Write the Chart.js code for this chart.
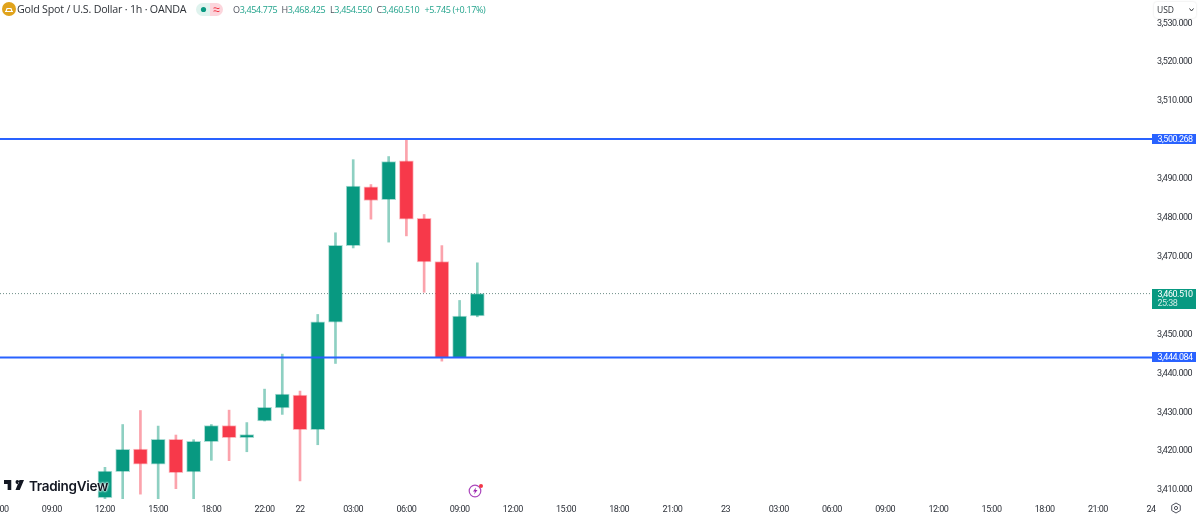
<!DOCTYPE html>
<html>
<head>
<meta charset="utf-8">
<title>Gold Spot / U.S. Dollar</title>
<script src="https://cdn.jsdelivr.net/npm/chart.js@4/dist/chart.umd.min.js"></script>
<style>
  html, body { margin: 0; padding: 0; background: #fff; overflow: hidden; }
  #wrap { position: relative; width: 1200px; height: 516px; font-family: "Open Sans", sans-serif; }
  #wrap span, #wrap div { position: absolute; white-space: nowrap; }
  #title { left: 17px; top: 0px; font-size: 10.7px; line-height: 19px; color: #2e3238; letter-spacing: -0.22px; }
  .ohlc { top: 0px; font-size: 9px; line-height: 19px; color: #22a38c; letter-spacing: -0.35px; }
  .ohlc b { font-weight: 400; color: #50535e; }
  #usd { left: 1154px; top: 2px; width: 42px; height: 16px; background: #fff; border-radius: 3px;
         box-shadow: 0 0 2px rgba(0,0,0,0.15); font-size: 8.5px; line-height: 16px; color: #2e3238; text-indent: 3px; }
  #tv { left: 29px; top: 476px; font-size: 13.5px; line-height: 20px; font-weight: 600; color: #131722;
        text-shadow: 0 0 2px #fff, 0 0 2px #fff, 0 0 3px #fff; font-family: Inter, sans-serif; letter-spacing: -0.3px; }
  svg { position: absolute; }
</style>
</head>
<body>
<div id="wrap">
  <canvas id="gold-chart" width="1200" height="516"></canvas>

  <svg style="left:2px;top:2px" width="14" height="14" viewBox="0 0 14 14">
    <circle cx="7" cy="7" r="7" fill="#e0a31c"/>
    <path d="M3 9.5h8M5 6.5h4L10 9.5H4z" stroke="#fff" stroke-width="1.2" fill="none"/>
  </svg>
  <span id="title">Gold Spot / U.S. Dollar · 1h · OANDA</span>

  <svg style="left:196px;top:3px" width="27" height="13" viewBox="0 0 27 13">
    <path d="M6.5 0H14V13H6.5A6.5 6.5 0 0 1 6.5 0z" fill="#dff3ee"/>
    <path d="M14 0H20.5A6.5 6.5 0 0 1 20.5 13H14z" fill="#fcd5dc"/>
    <circle cx="7.5" cy="6.5" r="2.6" fill="#089981"/>
    <path d="M17.5 5.2q1.5-1 3 0t3 0M17.5 8.2q1.5-1 3 0t3 0" stroke="#f23645" fill="none" stroke-width="1"/>
  </svg>

  <span class="ohlc" style="left:233px"><b>O</b>3,454.775</span>
  <span class="ohlc" style="left:281.5px"><b>H</b>3,468.425</span>
  <span class="ohlc" style="left:330px"><b>L</b>3,454.550</span>
  <span class="ohlc" style="left:376.5px"><b>C</b>3,460.510</span>
  <span class="ohlc" style="left:424.5px">+5.745 (+0.17%)</span>

  <div id="usd">USD</div>
  <svg style="left:1189px;top:8px" width="5" height="4" viewBox="0 0 5 4">
    <path d="M0.5 0.5L2.5 3L4.5 0.5" stroke="#2e3238" fill="none"/>
  </svg>

  <svg style="left:4px;top:480px" width="20" height="10" viewBox="2 6 33 15" preserveAspectRatio="none">
    <path d="M14 6H2v6h6v9h6V6zm14 15h-7l6.5-15H35l-7 15zM24 12a3 3 0 1 0 0-6 3 3 0 0 0 0 6z" fill="#131722"/>
  </svg>
  <span id="tv">TradingView</span>

  <svg style="left:468px;top:483px" width="16" height="15" viewBox="0 0 16 15">
    <circle cx="7" cy="8" r="5.8" fill="none" stroke="#ab47bc" stroke-width="1.2"/>
    <path d="M8 4.5L5 8.5H7L6 11.5L9.5 7H7.5z" fill="#9c27b0"/>
    <circle cx="13" cy="3" r="2" fill="#f23645"/>
  </svg>

  <svg style="left:1170px;top:502px" width="12" height="12" viewBox="0 0 12 12">
    <path d="M6 1L10.3 3.5V8.5L6 11L1.7 8.5V3.5z" fill="none" stroke="#50535e" stroke-width="1"/>
    <circle cx="6" cy="6" r="1.6" fill="none" stroke="#50535e" stroke-width="1"/>
  </svg>
</div>

<script>
// one bar per hour, 21:00 is the daily break so it has no slot
const candleHours = ["12:00","13:00","14:00","15:00","16:00","17:00","18:00","19:00","20:00","22:00","23:00",
                     "00:00","01:00","02:00","03:00","04:00","05:00","06:00","07:00","08:00","09:00","10:00"];
const candleSlots = [6,7,8,9,10,11,12,13,14,15,16,17,18,19,20,21,22,23,24,25,26,27];
const opens  = [3408.05,3414.75,3420.55,3416.65,3423.05,3414.65,3422.45,3426.55,3423.45,3427.75,3431.15,
                3434.45,3425.55,3453.15,3472.85,3487.95,3484.65,3494.65,3479.85,3468.75,3444.05,3454.775];
const highs  = [3415.85,3426.85,3430.45,3426.45,3424.15,3422.95,3426.85,3430.55,3427.35,3435.95,3444.95,
                3435.45,3455.15,3476.15,3494.95,3488.55,3495.75,3500.268,3480.85,3472.85,3458.75,3468.425];
const lows   = [3407.75,3407.75,3408.95,3407.75,3410.35,3407.65,3417.65,3417.55,3419.85,3427.75,3429.45,
                3412.35,3421.65,3442.55,3472.25,3479.65,3473.75,3475.35,3460.85,3443.15,3444.05,3454.55];
const closes = [3414.85,3420.45,3416.65,3423.05,3414.45,3422.55,3426.55,3423.45,3424.25,3431.25,3434.65,
                3425.55,3453.25,3472.95,3488.15,3484.45,3494.45,3479.65,3468.65,3444.05,3454.75,3460.51];

const timeTickSlots  = [0,3,6,9,12,15,17,20,23,26,29,32,35,38,41,44,47,50,53,56,59,62,65];
const timeTickLabels = ["06:00","09:00","12:00","15:00","18:00","22:00","22","03:00","06:00","09:00","12:00",
                        "15:00","18:00","21:00","23","03:00","06:00","09:00","12:00","15:00","18:00","21:00","24"];
const priceTicks = [3410,3420,3430,3440,3450,3460,3470,3480,3490,3500,3510,3520,3530];

const supportLevel = 3444.084;
const resistanceLevel = 3500.268;
const lastPrice = 3460.51;
const countdown = "25:38";

const GREEN = "#089981";
const RED = "#f7394a";
const BLUE = "#2962ff";
const AXIS_FONT = "Roboto";
const slotMin = 0.08;
const slotMax = 65.05;

function fmtPrice(v) {
    return v.toLocaleString("en-US", {minimumFractionDigits: 3, maximumFractionDigits: 3});
}

function levelLine(price, color, width, dash, order) {
    return {
        type: "line",
        data: [{x: slotMin, y: price}, {x: slotMax, y: price}],
        borderColor: color,
        borderWidth: width,
        borderDash: dash,
        pointRadius: 0,
        order: order
    };
}

var rising = opens.map((o, i) => closes[i] >= o);

// price tags sit on top of the axis labels
const priceTags = {
    id: "priceTags",
    beforeDraw(chart) {
        chart.ctx.letterSpacing = "-0.5px";
    },
    afterDraw(chart) {
        const c = chart.ctx;
        const y = chart.scales.y;
        c.save();
        c.textAlign = "left";
        c.textBaseline = "middle";
        c.font = "9px " + AXIS_FONT;
        [resistanceLevel, supportLevel].forEach(function (p) {
            const py = Math.round(y.getPixelForValue(p));
            c.fillStyle = BLUE;
            c.fillRect(1152, py - 5, 44, 10);
            c.fillStyle = "#fff";
            c.fillText(fmtPrice(p), 1157.5, py + 0.5);
        });
        const py = Math.round(y.getPixelForValue(lastPrice));
        c.fillStyle = GREEN;
        c.fillRect(1152, py - 5, 44, 20);
        c.fillStyle = "#fff";
        c.fillText(fmtPrice(lastPrice), 1157.5, py + 0.5);
        c.fillStyle = "rgba(255,255,255,0.8)";
        c.fillText(countdown, 1157.5, py + 9.5);
        c.restore();
    }
};

const ctx = document.getElementById("gold-chart").getContext("2d");
var chart = new Chart(ctx, {
    type: "bar",
    data: {
        datasets: [
            levelLine(resistanceLevel, BLUE, 2, [], 0),
            levelLine(supportLevel, BLUE, 2, [], 0),
            levelLine(lastPrice, "#6f8f88", 1, [1, 2], 4),
            {
                label: "Body",
                data: candleSlots.map((s, i) => ({x: s, y: [opens[i], closes[i]]})),
                backgroundColor: rising.map(r => r ? GREEN : RED),
                borderColor: rising.map(r => r ? "rgba(8,153,129,0.35)" : "rgba(247,57,74,0.35)"),
                borderWidth: 1,
                borderSkipped: false,
                barThickness: 14,
                grouped: false,
                order: 1
            },
            {
                label: "Wick",
                data: candleSlots.map((s, i) => ({x: s, y: [lows[i], highs[i]]})),
                backgroundColor: rising.map(r => r ? "#8ed0c2" : "#fba3ac"),
                barThickness: 2,
                grouped: false,
                order: 2
            }
        ]
    },
    options: {
        responsive: false,
        animation: false,
        devicePixelRatio: 1,
        layout: {padding: 0},
        plugins: {legend: {display: false}, tooltip: {enabled: false}},
        scales: {
            x: {
                type: "linear",
                offset: false,
                min: slotMin,
                max: slotMax,
                grid: {display: false, drawTicks: false},
                border: {display: false},
                afterBuildTicks(scale) {
                    scale.ticks = timeTickSlots.map(s => ({value: s}));
                },
                afterFit(scale) {
                    scale.paddingLeft = 0;
                    scale.paddingRight = 0;
                    scale.height = 17;
                },
                ticks: {
                    autoSkip: false,
                    maxRotation: 0,
                    padding: 5,
                    color: "#2f333b",
                    font: {family: AXIS_FONT, size: 9},
                    callback(value) {
                        return timeTickLabels[timeTickSlots.indexOf(value)];
                    }
                }
            },
            y: {
                position: "right",
                min: 3407.7,
                max: 3536,
                grid: {display: false, drawTicks: false},
                border: {display: false},
                afterBuildTicks(scale) {
                    scale.ticks = priceTicks.map(p => ({value: p}));
                },
                afterFit(scale) {
                    scale.paddingTop = 0;
                    scale.paddingBottom = 0;
                    scale.width = 48;
                },
                ticks: {
                    padding: 5,
                    color: "#2f333b",
                    font: {family: AXIS_FONT, size: 9},
                    callback(value) {
                        return fmtPrice(value);
                    }
                }
            }
        }
    },
    plugins: [priceTags]
});
</script>
</body>
</html>
